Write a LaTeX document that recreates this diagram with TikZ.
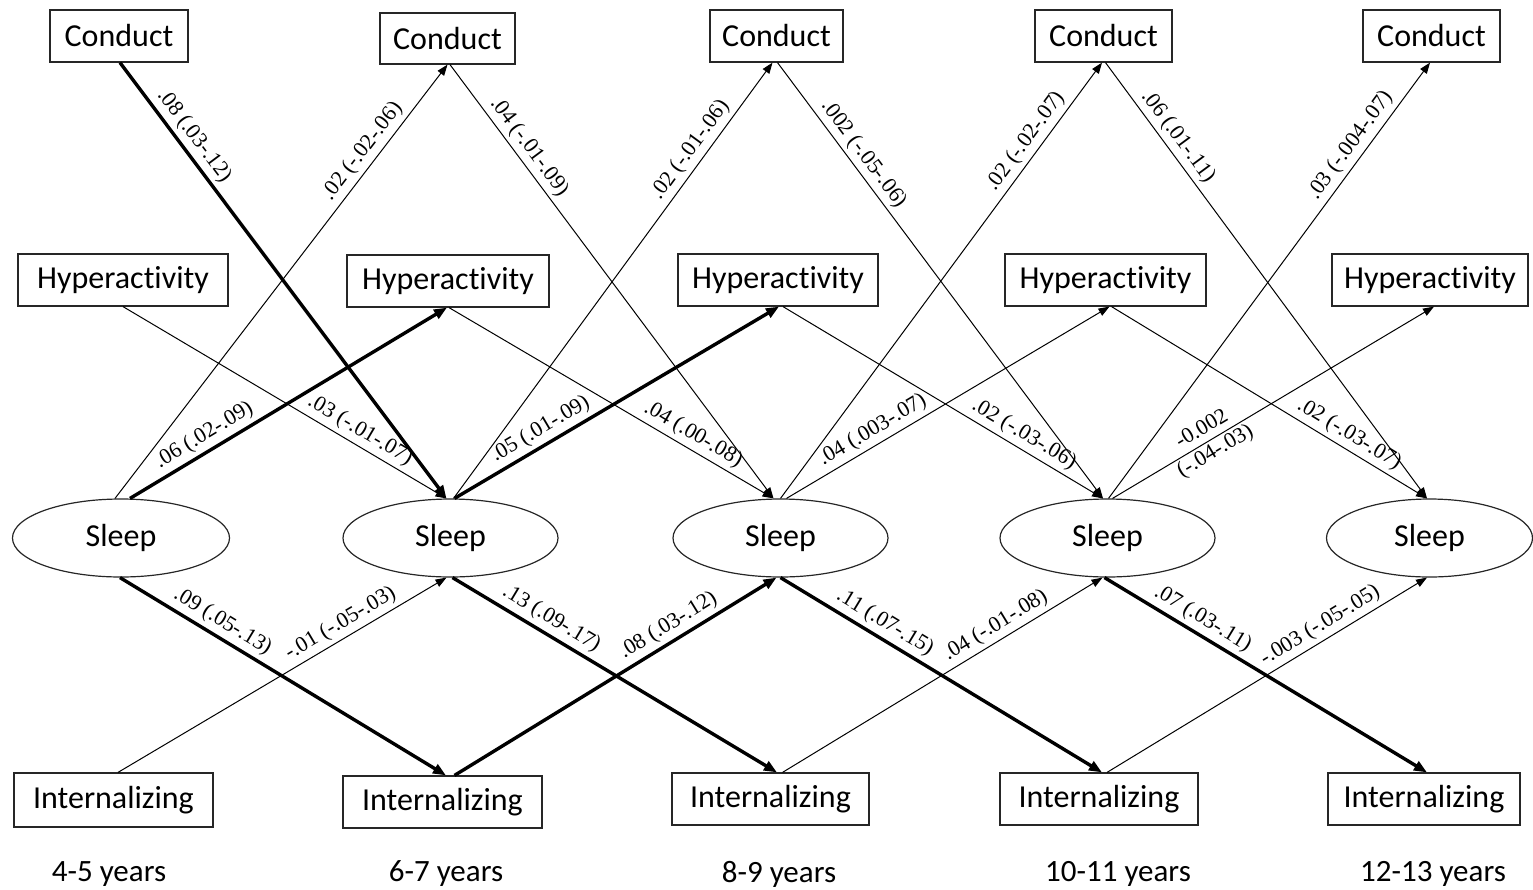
\documentclass[tikz,border=0pt]{standalone}
\usepackage{fontspec}
\setmainfont{Liberation Serif}
\newfontfamily\nodefont[Ligatures=NoCommon]{Carlito}
\usetikzlibrary{arrows.meta,shapes.geometric}
\begin{document}
\begin{tikzpicture}[x=1pt,y=-1pt,
  box/.style={draw=black!85, line width=1.2pt, rectangle, inner sep=0pt,
    font=\nodefont\fontsize{32}{38}\selectfont, minimum height=52pt},
  oval/.style={draw=black!85, line width=1.2pt, ellipse, inner sep=0pt,
    minimum width=215pt, minimum height=78pt, font=\nodefont\fontsize{32}{38}\selectfont},
  year/.style={font=\nodefont\fontsize{31}{36}\selectfont, inner sep=0pt},
  weak/.style={line width=1pt, -{Triangle[length=11pt,width=8pt]}},
  strong/.style={line width=3.4pt, -{Triangle[length=13pt,width=10pt]}},
  lab/.style={font=\rmfamily\fontsize{22}{24}\selectfont, sloped, above, inner sep=4pt},
  labmid/.style={font=\rmfamily\fontsize{22}{26}\selectfont, sloped, align=center, inner sep=0pt},
]
\useasboundingbox (0,0) rectangle (1533,889);

% Conduct
\node[box, minimum width=138pt] (c1) at (119,36) {Conduct};
\node[box, minimum width=135pt, minimum height=51pt] (c2) at (447.5,38.5) {Conduct};
\node[box, minimum width=133pt] (c3) at (776.5,36) {Conduct};
\node[box, minimum width=137pt] (c4) at (1103.5,36) {Conduct};
\node[box, minimum width=137pt] (c5) at (1431.5,36) {Conduct};
% Hyperactivity
\node[box, minimum width=210pt] (h1) at (123,280) {Hyperactivity};
\node[box, minimum width=202pt] (h2) at (448,281) {Hyperactivity};
\node[box, minimum width=200pt] (h3) at (778,280) {Hyperactivity};
\node[box, minimum width=201pt] (h4) at (1105.5,280) {Hyperactivity};
\node[box, minimum width=196pt] (h5) at (1430,280) {Hyperactivity};
% Sleep
\node[oval, minimum width=217pt] (s1) at (121,538) {Sleep};
\node[oval] (s2) at (450.5,538) {Sleep};
\node[oval] (s3) at (780.5,538) {Sleep};
\node[oval] (s4) at (1107.5,538) {Sleep};
\node[oval, minimum width=206pt] (s5) at (1429.5,538) {Sleep};
% Internalizing
\node[box, minimum width=199pt, minimum height=54pt] (i1) at (113.5,800) {Internalizing};
\node[box, minimum width=199pt] (i2) at (442.5,802) {Internalizing};
\node[box, minimum width=197pt] (i3) at (770.5,799) {Internalizing};
\node[box, minimum width=198pt] (i4) at (1099,799) {Internalizing};
\node[box, minimum width=192pt] (i5) at (1424,799) {Internalizing};
% Years
\node[year] (y1) at (109,874) {4-5 years};
\node[year] (y2) at (446,874) {6-7 years};
\node[year] (y3) at (779,874) {8-9 years};
\node[year] (y4) at (1118,874) {10-11 years};
\node[year] (y5) at (1433,874) {12-13 years};

% 4-5 -> 6-7
\draw[strong] ([xshift=1pt]c1.south) -- node[lab,pos=0.19]{.08 (.03-.12)} ([xshift=-4pt]s2.north);
\draw[weak] ([xshift=-6pt]s1.north) -- node[lab,pos=0.78]{.02 (-.02-.06)} (c2.south);
\draw[strong] ([xshift=9pt]s1.north) -- node[lab,pos=0.26]{.06 (.02-.09)} ([xshift=-1pt]h2.south);
\draw[weak] (h1.south) -- node[lab,pos=0.71]{.03 (-.01-.07)} ([xshift=-4pt]s2.north);
\draw[strong] ([xshift=-1pt]s1.south) -- node[lab,pos=0.29]{.09 (.05-.13)} ([xshift=3.5pt]i2.north);
\draw[weak] ([xshift=4.5pt]i1.north) -- node[lab,pos=0.70]{-.01 (-.05-.03)} ([xshift=-4pt]s2.south);

% 6-7 -> 8-9
\draw[weak] ([xshift=2.5pt]c2.south) -- node[lab,pos=0.21]{.04 (-.01-.09)} ([xshift=-7pt]s3.north);
\draw[weak] ([xshift=3pt]s2.north) -- node[lab,pos=0.78]{.02 (-.01-.06)} ([xshift=-4pt]c3.south);
\draw[strong] ([xshift=4pt]s2.north) -- node[lab,pos=0.29]{.05 (.01-.09)} ([xshift=1pt]h3.south);
\draw[weak] ([xshift=1pt]h2.south) -- node[lab,pos=0.73]{.04 (.00-.08)} ([xshift=-7pt]s3.north);
\draw[strong] ([xshift=2pt]s2.south) -- node[lab,pos=0.28]{.13 (.09-.17)} ([xshift=6.5pt]i3.north);
\draw[strong] ([xshift=12pt]i2.north) -- node[lab,pos=0.69]{.08 (.03-.12)} ([xshift=-4pt]s3.south);

% 8-9 -> 10-11
\draw[weak] ([xshift=1pt]c3.south) -- node[lab,pos=0.23]{.002 (-.05-.06)} ([xshift=-4.5pt]s4.north);
\draw[weak] (s3.north) -- node[lab,pos=0.80]{.02 (-.02-.07)} ([xshift=-1.5pt]c4.south);
\draw[weak] ([xshift=6pt]s3.north) -- node[lab,pos=0.29]{.04 (.003-.07)} ([xshift=4pt]h4.south);
\draw[weak] ([xshift=5pt]h3.south) -- node[lab,pos=0.73]{.02 (-.03-.06)} ([xshift=-4.5pt]s4.north);
\draw[strong] (s3.south) -- node[lab,pos=0.30]{.11 (.07-.15)} ([xshift=3pt]i4.north);
\draw[weak] ([xshift=12pt]i3.north) -- node[lab,pos=0.69]{.04 (-.01-.08)} ([xshift=-5pt]s4.south);

% 10-11 -> 12-13
\draw[weak] ([xshift=2pt]c4.south) -- node[lab,pos=0.19]{.06 (.01-.11)} ([xshift=-2.5pt]s5.north);
\draw[weak] ([xshift=1pt]s4.north) -- node[lab,pos=0.79]{.03 (-.004-.07)} ([xshift=-1.5pt]c5.south);
\draw[weak] ([xshift=5pt]s4.north) -- node[labmid,pos=0.30]{-0.002\\(-.04-.03)} ([xshift=4pt]h5.south);
\draw[weak] ([xshift=6pt]h4.south) -- node[lab,pos=0.73]{.02 (-.03-.07)} ([xshift=-2.5pt]s5.north);
\draw[strong] ([xshift=-3pt]s4.south) -- node[lab,pos=0.28]{.07 (.03-.11)} ([xshift=3pt]i5.north);
\draw[weak] ([xshift=8pt]i4.north) -- node[lab,pos=0.69]{-.003 (-.05-.05)} ([xshift=-2.5pt]s5.south);
\end{tikzpicture}
\end{document}
